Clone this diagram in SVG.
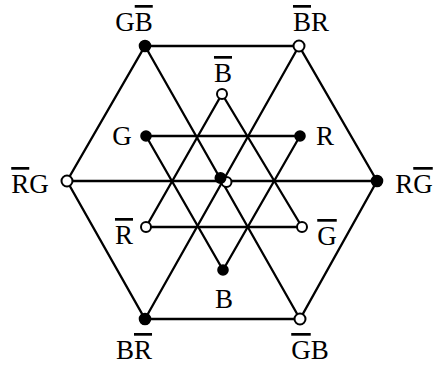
<svg xmlns="http://www.w3.org/2000/svg" width="433" height="365" viewBox="0 0 433 365">
<style>
.e{stroke:#000;stroke-width:2.3;fill:none;stroke-linecap:round}
.f{fill:#000;stroke:#000;stroke-width:1.6}
.o{fill:#fff;stroke:#000;stroke-width:2}
text{font-family:"Liberation Serif","DejaVu Serif",serif;font-size:27px;fill:#000;text-anchor:middle}
.ob{text-decoration:overline;text-decoration-thickness:1.3px}
</style>
<rect width="433" height="365" fill="#fff"/>
<g id="connectors">
<path class="e" d="M145,46 L299,46 L377,181 L300,319 L145,319 L67,181 Z"/>
<line class="e" x1="67" y1="181" x2="377" y2="181"/>
<line class="e" x1="145" y1="46" x2="300" y2="319"/>
<line class="e" x1="299" y1="46" x2="145" y2="319"/>
<path class="e" d="M146,136 L300,136 L223,270 Z"/>
<path class="e" d="M222,94 L302,227 L146,227 Z"/>
</g>
<g id="n-GnB"><circle class="f" cx="145" cy="46" r="5.5"/><text x="134" y="31">G<tspan class="ob">B</tspan></text></g>
<g id="n-nBR"><circle class="o" cx="299" cy="46" r="5.5"/><text x="311" y="31"><tspan class="ob">B</tspan>R</text></g>
<g id="n-RnG"><circle class="f" cx="377" cy="181" r="5.5"/><text x="414" y="193">R<tspan class="ob">G</tspan></text></g>
<g id="n-nGB"><circle class="o" cx="300" cy="319" r="5.5"/><text x="310" y="359"><tspan class="ob">G</tspan>B</text></g>
<g id="n-BnR"><circle class="f" cx="145" cy="319" r="5.5"/><text x="134" y="359">B<tspan class="ob">R</tspan></text></g>
<g id="n-nRG"><circle class="o" cx="67" cy="181" r="5.5"/><text x="30" y="193"><tspan class="ob">R</tspan>G</text></g>
<g id="n-nB"><circle class="o" cx="222" cy="94" r="5"/><text x="223" y="82"><tspan class="ob">B</tspan></text></g>
<g id="n-G"><circle class="f" cx="146" cy="136" r="5"/><text x="122" y="145">G</text></g>
<g id="n-R"><circle class="f" cx="300" cy="136" r="5"/><text x="325" y="145">R</text></g>
<g id="n-nR"><circle class="o" cx="146" cy="227" r="5"/><text x="124" y="244"><tspan class="ob">R</tspan></text></g>
<g id="n-nG"><circle class="o" cx="302" cy="227" r="5"/><text x="327" y="245"><tspan class="ob">G</tspan></text></g>
<g id="n-B"><circle class="f" cx="223" cy="270" r="5"/><text x="224" y="308">B</text></g>
<g id="n-center-open"><circle class="o" cx="226.5" cy="182" r="5"/></g>
<g id="n-center-filled"><circle class="f" cx="220.5" cy="178" r="5.2"/></g>
</svg>
